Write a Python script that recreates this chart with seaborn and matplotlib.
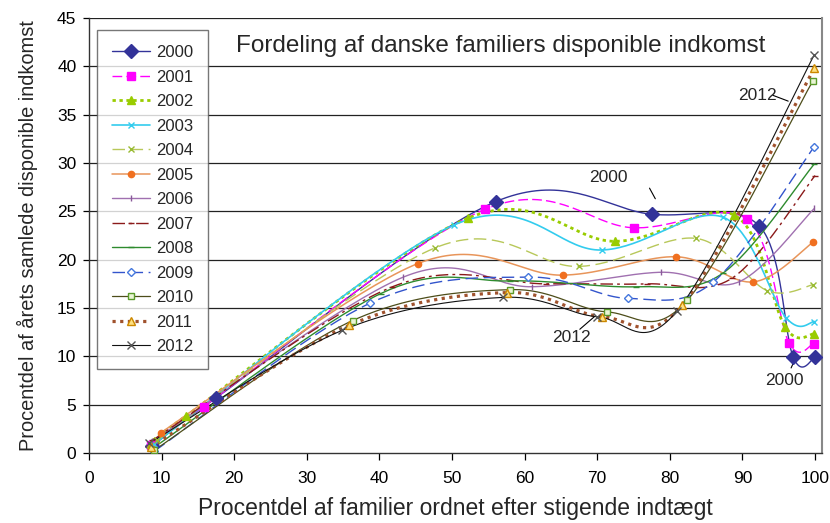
import numpy as np
import matplotlib
matplotlib.use("Agg")
import matplotlib.pyplot as plt
from matplotlib.lines import Line2D
import seaborn as sns

# points (x = % of families, y = % of income)
years = ["2000", "2001", "2002", "2003", "2004", "2005", "2006",
         "2007", "2008", "2009", "2010", "2011", "2012"]

x_2000 = [8.7, 17.5, 56.0, 77.5, 92.3, 97.0, 100.0]
y_2000 = [0.7, 5.7, 26.0, 24.7, 23.5, 9.9, 9.9]
x_2001 = [8.5, 15.8, 54.5, 75.0, 90.6, 96.4, 99.8]
y_2001 = [0.8, 4.8, 25.2, 23.3, 24.2, 11.4, 11.3]
x_2002 = [8.5, 13.3, 52.2, 72.5, 88.9, 95.9, 99.8]
y_2002 = [0.9, 3.8, 24.3, 21.9, 24.6, 13.0, 12.3]
x_2003 = [8.9, 50.3, 70.6, 87.3, 96.0, 99.9]
y_2003 = [0.9, 23.6, 21.0, 24.4, 14.0, 13.6]
x_2004 = [9.3, 47.6, 67.5, 83.6, 93.4, 99.7]
y_2004 = [1.3, 21.2, 19.3, 22.2, 16.8, 17.4]
x_2005 = [9.9, 45.3, 65.3, 80.9, 91.5, 99.7]
y_2005 = [2.1, 19.6, 18.4, 20.3, 17.7, 21.8]
x_2006 = [8.7, 43.3, 61.0, 78.8, 89.5, 99.9]
y_2006 = [1.2, 18.2, 17.2, 18.7, 17.7, 25.3]
x_2007 = [8.7, 41.8, 63.0, 76.9, 88.6, 100.0]
y_2007 = [1.3, 17.2, 17.5, 17.5, 18.1, 28.7]
x_2008 = [8.8, 40.2, 58.0, 75.4, 87.3, 99.9]
y_2008 = [0.5, 16.5, 17.8, 17.2, 18.6, 29.9]
x_2009 = [9.0, 38.7, 60.5, 74.2, 86.0, 99.9]
y_2009 = [0.2, 15.5, 18.2, 16.0, 17.7, 31.7]
x_2010 = [9.0, 36.3, 58.0, 71.3, 82.4, 99.7]
y_2010 = [0.3, 13.7, 16.9, 14.6, 15.8, 38.5]
x_2011 = [8.5, 35.8, 57.6, 70.7, 81.7, 99.9]
y_2011 = [0.6, 13.2, 16.6, 14.1, 15.3, 39.8]
x_2012 = [8.3, 34.9, 57.0, 70.0, 81.0, 99.9]
y_2012 = [1.0, 12.7, 16.1, 14.1, 14.7, 41.2]

xs_all = [x_2000, x_2001, x_2002, x_2003, x_2004, x_2005, x_2006,
          x_2007, x_2008, x_2009, x_2010, x_2011, x_2012]
ys_all = [y_2000, y_2001, y_2002, y_2003, y_2004, y_2005, y_2006,
          y_2007, y_2008, y_2009, y_2010, y_2011, y_2012]

# line colour, dash pattern, width, marker, marker size, face, edge
styles = [
    ("#333399", None,             1.0, "D", 7.0, "#333399", "#333399"),
    ("#FF00FF", (7, 3),           1.0, "s", 5.5, "#FF00FF", "#FF00FF"),
    ("#99CC00", (1.2, 1.3),       2.0, "^", 6.0, "#99CC00", "#99CC00"),
    ("#33CCEE", None,             1.2, "x", 4.5, "#33CCEE", "#33CCEE"),
    ("#B8C85A", (9, 4),           1.0, "x", 4.5, "#99BB33", "#99BB33"),
    ("#E8955A", None,             1.1, "o", 4.5, "#F07020", "#F07020"),
    ("#A070B0", None,             1.0, "|", 5.0, "#8A5A9A", "#8A5A9A"),
    ("#8B1A1A", (9, 3, 2, 3),     1.0, "_", 5.0, "#8B1A1A", "#8B1A1A"),
    ("#2E8B2E", None,             1.0, "_", 5.0, "#2E8B2E", "#2E8B2E"),
    ("#3355CC", (9, 4),           1.0, "D", 4.5, "white", "#4477DD"),
    ("#4D4D1A", None,             0.9, "s", 5.0, "#EAF5D5", "#5A9A2A"),
    ("#A0522D", (1.0, 1.4),       2.3, "^", 5.5, "#FFE080", "#CC8800"),
    ("#111111", None,             0.8, "x", 6.0, "#555555", "#555555"),
]


def smooth(xs, ys, n=40):
    # bezier smoothing like the spreadsheet "smoothed line" option
    p = np.column_stack([xs, ys]).astype(float)
    pe = np.vstack([p[0], p, p[-1]])
    t = np.linspace(0, 1, n)[:, None]
    out = []
    for i in range(len(p) - 1):
        p0, p1, p2, p3 = pe[i], pe[i + 1], pe[i + 2], pe[i + 3]
        c1 = p1 + (p2 - p0) / 6
        c2 = p2 - (p3 - p1) / 6
        seg = (1 - t) ** 3 * p1 + 3 * (1 - t) ** 2 * t * c1 + 3 * (1 - t) * t ** 2 * c2 + t ** 3 * p2
        out.append(seg if i == 0 else seg[1:])
    out = np.vstack(out)
    return out[:, 0], out[:, 1]


sns.set_style("white")
plt.rcParams['font.family'] = ['Liberation Sans', 'DejaVu Sans']

fig = plt.figure(figsize=(8.3, 5.23), dpi=100)
ax = fig.add_axes([0.1072, 0.1338, 0.8832, 0.8318])

for v in range(5, 50, 5):
    ax.axhline(v, color="#222222", lw=0.9, zorder=0)

handles = []
for yr, xs, ys, st in zip(years, xs_all, ys_all, styles):
    col, dash, lw, mk, ms, fc, ec = st
    sx, sy = smooth(xs, ys)
    ls = "-" if dash is None else (0, dash)
    sns.lineplot(x=sx, y=sy, sort=False, estimator=None, color=col,
                 linewidth=lw, linestyle=ls, ax=ax, zorder=2)
    ax.plot(xs, ys, linestyle="none", marker=mk, markersize=ms,
            markerfacecolor=fc, markeredgecolor=ec, markeredgewidth=1.0, zorder=3)
    handles.append(Line2D([], [], color=col, lw=lw, linestyle=ls, marker=mk,
                          markersize=ms, markerfacecolor=fc, markeredgecolor=ec,
                          label=yr))

ax.set_xlim(0, 100.96)
ax.set_ylim(0, 45)
ax.set_xticks(range(0, 101, 10))
ax.set_yticks(range(0, 46, 5))
ax.tick_params(axis="x", direction="out", length=5, width=0.9, labelsize=12.5,
               pad=8, bottom=True, colors="black")
ax.tick_params(axis="y", direction="out", length=4, width=0.9, labelsize=12.5,
               pad=5, left=True, colors="black")
for s in ["left", "bottom"]:
    ax.spines[s].set_color("#333333")
    ax.spines[s].set_linewidth(1.0)
ax.spines["top"].set_visible(False)
ax.spines["right"].set_color("#888888")
ax.spines["right"].set_linewidth(1.5)

ax.set_xlabel("Procentdel af familier ordnet efter stigende indtægt", fontsize=16.5, labelpad=8)
ax.set_ylabel("Procentdel af årets samlede disponible indkomst", fontsize=14.4, labelpad=14)

ax.text(0.561, 0.935, "Fordeling af danske familiers disponible indkomst",
        transform=ax.transAxes, ha="center", va="center", fontsize=17.5)

# callouts
ax.text(71.5, 28.5, "2000", fontsize=12.5, ha="center", va="center")
ax.plot([77.2, 78.0], [27.4, 26.3], color="black", lw=0.8)
ax.text(66.5, 11.9, "2012", fontsize=12.5, ha="center", va="center")
ax.plot([67.6, 69.6], [12.8, 14.1], color="black", lw=0.8)
ax.text(92.0, 37.0, "2012", fontsize=12.5, ha="center", va="center")
ax.plot([94.2, 96.3], [37.0, 36.4], color="black", lw=0.8)
ax.text(95.8, 7.5, "2000", fontsize=12.5, ha="center", va="center")
ax.plot([96.7, 97.3], [8.8, 9.8], color="black", lw=0.8)

leg = ax.legend(handles=handles, loc="upper left", bbox_to_anchor=(0.011, 0.972),
                fontsize=12, frameon=True, fancybox=False, handlelength=2.3,
                labelspacing=0.57, borderpad=0.9, handletextpad=0.35,
                borderaxespad=0)
leg.get_frame().set_edgecolor("#555555")
leg.get_frame().set_linewidth(1.0)

fig.savefig("out.png", dpi=100)
